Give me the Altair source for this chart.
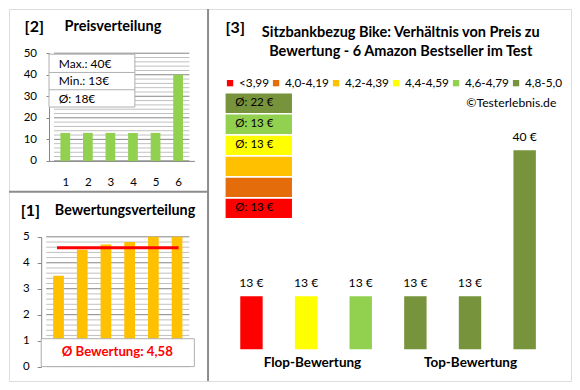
import altair as alt
import pandas as pd

FONT = "Lato"
GRID_MAJOR = "#868686"
GRID_MINOR = "#C0C0C0"
BOX_LINE = "#B0B0B0"
BORDER = "#8C8C8C"

# ---------------- data ----------------
price_pos = [1, 2, 3, 4, 5, 6]
price_vals = [13, 13, 13, 13, 13, 40]
price_stats = ["Max.: 40€", "Min.: 13€", "Ø: 18€"]
price_labels = [0, 10, 20, 30, 40, 50]
price_minor = [v for v in range(0, 51, 2) if v % 10]

rating_pos = [1, 2, 3, 4, 5, 6]
rating_vals = [3.5, 4.5, 4.7, 4.8, 5.0, 5.0]
rating_mean = [4.58]
rating_mean_text = "Ø Bewertung: 4,58"
rating_labels = [0, 1, 2, 3, 4, 5]
rating_minor = [i / 5 for i in range(26) if i % 5]

cat_labels = ["<3,99", "4,0-4,19", "4,2-4,39", "4,4-4,59", "4,6-4,79", "4,8-5,0"]
cat_colors = ["#FF0000", "#E46C0A", "#FFC000", "#FFFF00", "#92D050", "#77933C"]
cat_avg_text = ["Ø: 13 €", "", "", "Ø: 13 €", "Ø: 13 €", "Ø: 22 €"]

prod_pos = ["1", "2", "3", "4", "5", "6"]
prod_price = [13, 13, 13, 13, 13, 40]
prod_cat = ["<3,99", "4,4-4,59", "4,6-4,79", "4,8-5,0", "4,8-5,0", "4,8-5,0"]
prod_text = ["13 €", "13 €", "13 €", "13 €", "13 €", "40 €"]
group_names = ["Flop-Bewertung", "Top-Bewertung"]
title_lines = ["Sitzbankbezug Bike: Verhältnis von Preis zu",
               "Bewertung - 6 Amazon Bestseller im Test"]
copyright_text = "©Testerlebnis.de"

# ---------------- layout (one view, reference pixel grid scaled in) ----------------
W, H = 562, 372
SX = W / 576
SY = H / 387


def ax(x):
    return (x - 1) * SX


def ay(y):
    return (y - 1) * SY


def one():
    return pd.DataFrame({"a": [0]})


def label(text, x, y, size=13, weight="normal", align="left", color="black"):
    return alt.Chart(pd.DataFrame({"t": [text]})).mark_text(
        font=FONT, fontSize=size, fontWeight=weight, align=align,
        baseline="middle", color=color).encode(
        x=alt.value(x), y=alt.value(y), text="t:N")


def box(x0, x1, y0, y1):
    return alt.Chart(one()).mark_rect(fill="white", stroke=BOX_LINE, strokeWidth=1).encode(
        x=alt.value(x0), x2=alt.value(x1), y=alt.value(y0), y2=alt.value(y1))


def seg(x0, x1, y0, y1, color=BOX_LINE, width=1):
    return alt.Chart(one()).mark_rule(color=color, strokeWidth=width).encode(
        x=alt.value(x0), x2=alt.value(x1), y=alt.value(y0), y2=alt.value(y1))


def grid(values, color, xdomain, xscale, yscale):
    # horizontal grid lines across the full plot domain of the panel's own scales
    df = pd.DataFrame({"g": values, "a": [xdomain[0]] * len(values),
                       "b": [xdomain[1]] * len(values)})
    return alt.Chart(df).mark_rule(color=color, strokeWidth=1).encode(
        x=alt.X("a:Q", scale=xscale, axis=None),
        x2="b:Q",
        y=alt.Y("g:Q", scale=yscale, axis=None))


def y_axis(values, axis_x, tick, pad):
    return alt.Axis(
        values=values, orient="left", offset=-axis_x, grid=False, format="d",
        tickSize=tick, tickColor=GRID_MAJOR, domainColor=GRID_MAJOR,
        labelPadding=pad, labelFont=FONT, labelFontSize=11.5, labelColor="black",
        labelOverlap=False, title=None)


# ---------------- panel [2] Preisverteilung ----------------
X2_DOM = [0.5, 6.5]
x2s = alt.Scale(domain=X2_DOM, range=[ax(42), ax(191)], nice=False, zero=False)
y2s = alt.Scale(domain=[0, 50], range=[ay(159), ay(47)], nice=False, zero=True)
x2_axis = alt.Axis(orient="bottom", offset=ay(159) - H, values=price_pos, format="d",
                   ticks=False, tickSize=0, domainColor=GRID_MAJOR, labelAngle=0,
                   labelPadding=ay(181) - ay(159), labelBaseline="middle",
                   labelFont=FONT, labelFontSize=11.5, labelColor="black",
                   title=None, grid=False, labelFlush=False)
y2_axis = y_axis(price_labels, ax(42), 3, 9.5)

price_df = pd.DataFrame({"pos": price_pos, "v": price_vals})
p2_ghost = alt.Chart(price_df).mark_bar(opacity=0, size=10 * SX).encode(
    x=alt.X("pos:Q", scale=x2s, axis=None),
    y=alt.Y("v:Q", scale=y2s, axis=None))
p2_grid = alt.layer(
    p2_ghost,
    grid(price_minor, GRID_MINOR, X2_DOM, x2s, y2s),
    grid(price_labels, GRID_MAJOR, X2_DOM, x2s, y2s),
)
p2_bars = alt.Chart(price_df).mark_bar(color="#92D050", size=10 * SX).encode(
    x=alt.X("pos:Q", scale=x2s, axis=x2_axis),
    y=alt.Y("v:Q", scale=y2s, axis=y2_axis))

# ---------------- panel [1] Bewertungsverteilung ----------------
X1_DOM = [0.48, 6.52]
x1s = alt.Scale(domain=X1_DOM, range=[ax(34), ax(191)], nice=False, zero=False)
y1s = alt.Scale(domain=[0, 5], range=[ay(373), ay(238)], nice=False, zero=True)
y1_axis = y_axis(rating_labels, ax(34), 4, 8)

rating_df = pd.DataFrame({"pos": rating_pos, "v": rating_vals})
p1_ghost = alt.Chart(rating_df).mark_bar(opacity=0, size=11 * SX).encode(
    x=alt.X("pos:Q", scale=x1s, axis=None),
    y=alt.Y("v:Q", scale=y1s, axis=None))
p1_grid = alt.layer(
    p1_ghost,
    grid(rating_minor, GRID_MINOR, X1_DOM, x1s, y1s),
    grid(rating_labels, GRID_MAJOR, X1_DOM, x1s, y1s),
)
p1_bars = alt.Chart(rating_df).mark_bar(color="#FFC000", size=11 * SX).encode(
    x=alt.X("pos:Q", scale=x1s, axis=None),
    y=alt.Y("v:Q", scale=y1s, axis=y1_axis))
mean_df = pd.DataFrame({"a": [rating_pos[0]], "b": [rating_pos[-1]], "m": rating_mean})
p1_mean = alt.Chart(mean_df).mark_rule(color="#FF0000", strokeWidth=3, strokeCap="square").encode(
    x=alt.X("a:Q", scale=x1s, axis=None),
    x2="b:Q",
    y=alt.Y("m:Q", scale=y1s, axis=y1_axis))
p1 = alt.layer(p1_bars, p1_mean)

# ---------------- panel [3] Preis vs Bewertung ----------------
BASE = 3.2
x3s = alt.Scale(domain=prod_pos, range=[ax(221.5), ax(557.5)], paddingInner=0.59, paddingOuter=0.295)
y3s = alt.Scale(domain=[BASE, 40], range=[ay(355), ay(148)], nice=False, zero=False)
color_scale = alt.Scale(domain=cat_labels, range=cat_colors)
legend = alt.Legend(title=None, orient="none", legendX=ax(221.5), legendY=ay(72),
                    direction="horizontal", columns=6, gridAlign="none",
                    symbolType="square", symbolSize=40, symbolStrokeWidth=0,
                    labelFont=FONT, labelFontSize=11.8, labelColor="black",
                    labelOffset=3, columnPadding=1, padding=0)

prod_df = pd.DataFrame({"pos": prod_pos, "price": prod_price, "cat": prod_cat, "lbl": prod_text})
p3_bars = alt.Chart(prod_df).mark_bar().encode(
    x=alt.X("pos:N", scale=x3s, axis=None, sort=None),
    y=alt.Y("price:Q", scale=y3s, axis=None),
    y2=alt.datum(BASE),
    color=alt.Color("cat:N", scale=color_scale, legend=legend))
p3_lbls = alt.Chart(prod_df).mark_text(font=FONT, fontSize=12.2, dy=-13.5, color="black").encode(
    x=alt.X("pos:N", scale=x3s, axis=None, sort=None),
    y=alt.Y("price:Q", scale=y3s, axis=None),
    text="lbl:N")

cat_df = pd.DataFrame({"cat": cat_labels, "avg": cat_avg_text})
ybox = alt.Scale(domain=list(reversed(cat_labels)), range=[ay(89), ay(218.5)],
                 paddingInner=0.08, paddingOuter=0)
p3_boxes = alt.Chart(cat_df).mark_rect().encode(
    x=alt.value(ax(223)), x2=alt.value(ax(291)),
    y=alt.Y("cat:N", scale=ybox, axis=None),
    color=alt.Color("cat:N", scale=color_scale, legend=legend))
p3_boxtext = alt.Chart(cat_df).mark_text(font=FONT, fontSize=11.5, align="left", color="black").encode(
    x=alt.value(ax(233)),
    y=alt.Y("cat:N", scale=ybox, axis=None),
    text="avg:N")

p3 = alt.layer(
    alt.layer(p3_bars, p3_lbls),
    alt.layer(p3_boxes, p3_boxtext),
).resolve_scale(y="independent")

# ---------------- frame, boxes and texts ----------------
row_h = 18.3 * SY
decor = alt.layer(
    seg(ax(205), ax(205), 0, H, color=BORDER, width=2),
    seg(0, ax(205), ay(191), ay(191), color=BORDER, width=2),
    # panel 2 stats box
    box(ax(42), ax(130), ay(48), ay(103)),
    seg(ax(42), ax(130), ay(67), ay(67)),
    seg(ax(42), ax(130), ay(85), ay(85)),
    *[label(s, ax(52), ay(58) + i * row_h, size=12) for i, s in enumerate(price_stats)],
    label("[2]", ax(17), ay(20), size=16, weight="bold"),
    label("Preisverteilung", ax(58), ay(20), size=14.5, weight="bold"),
    # panel 1 mean box
    box(ax(34), ax(191), ay(344), ay(373)),
    label(rating_mean_text, ax(112), ay(358), size=13.2, weight="bold",
          align="center", color="#FF0000"),
    label("[1]", ax(13), ay(211), size=16, weight="bold"),
    label("Bewertungsverteilung", ax(48), ay(211), size=14.3, weight="bold"),
    # panel 3 texts
    label("[3]", ax(223), ay(21), size=16, weight="bold"),
    label(title_lines[0], ax(402.5), ay(25.5), size=14.5, weight="bold", align="center"),
    label(title_lines[1], ax(402.5), ay(45.5), size=14.5, weight="bold", align="center"),
    label(copyright_text, ax(562), ay(99), size=12.2, align="right"),
    label(group_names[0], ax(312), ay(369), size=13.5, weight="bold", align="center"),
    label(group_names[1], ax(474), ay(369), size=13.5, weight="bold", align="center"),
)

chart = alt.layer(p2_grid, p1_grid, p2_bars, p1, p3, decor).resolve_scale(
    x="independent", y="independent"
).properties(
    width=W, height=H, padding=1, autosize=alt.AutoSizeParams(type="none")
).configure_view(stroke=BORDER, strokeWidth=2).configure(font=FONT)

chart.save("out.html", embed_options={"renderer": "svg", "actions": False})
